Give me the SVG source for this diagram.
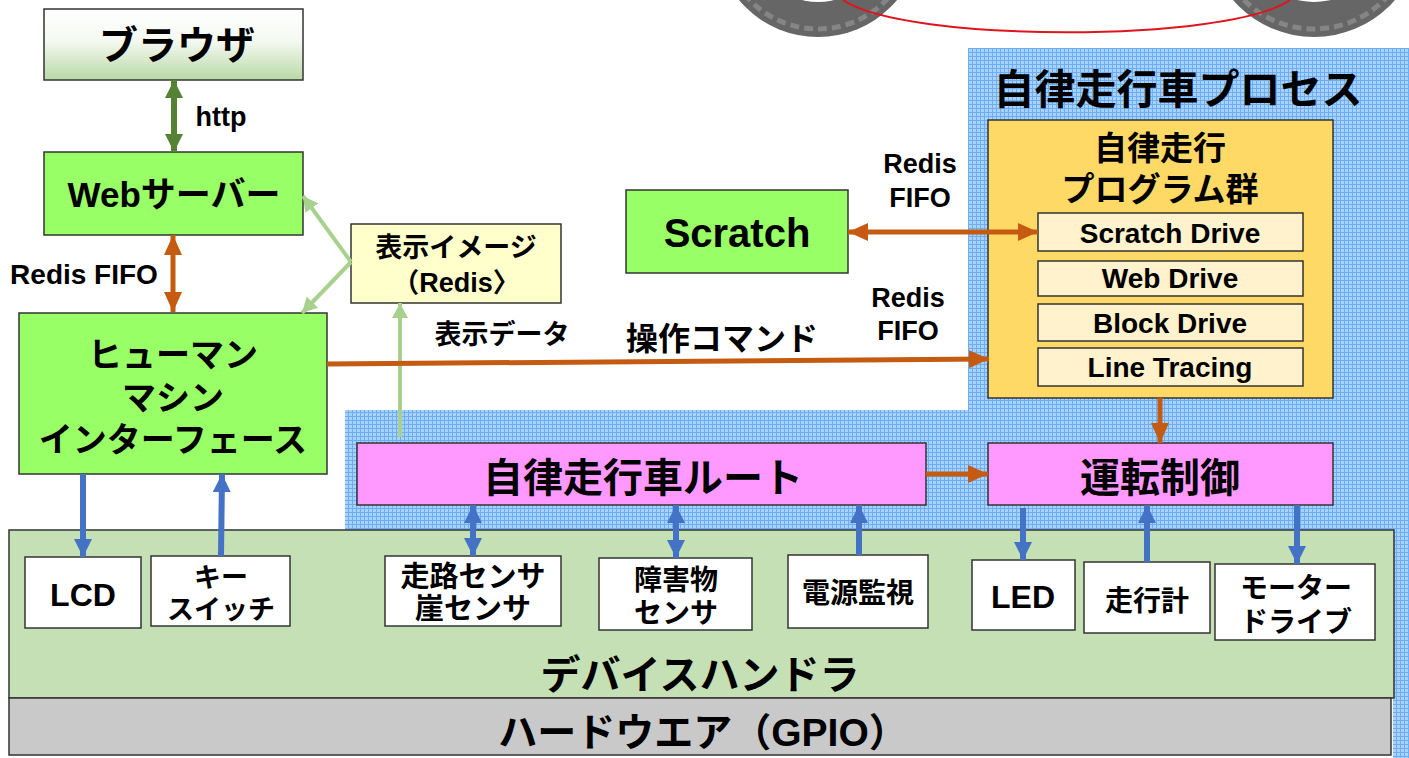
<svg xmlns="http://www.w3.org/2000/svg" width="1409" height="758" viewBox="0 0 1409 758">
  <defs>
    <pattern id="grid" width="4" height="4" patternUnits="userSpaceOnUse">
      <rect width="4" height="4" fill="#a9d1fb"/>
      <path d="M0 0.5H4M0.5 0V4" stroke="#6aaef6" stroke-width="1"/>
    </pattern>
    <linearGradient id="browserFill" x1="0" y1="0" x2="0" y2="1">
      <stop offset="0" stop-color="#ffffff"/>
      <stop offset="0.45" stop-color="#f4f9f1"/>
      <stop offset="1" stop-color="#b9d8a6"/>
    </linearGradient>
    <marker id="hOrange" markerUnits="userSpaceOnUse" markerWidth="20" markerHeight="18" viewBox="0 0 20 18" refX="20" refY="9" orient="auto-start-reverse">
      <path d="M0 0L20 9L0 18z" fill="#c55a11"/>
    </marker>
    <marker id="hBlue" markerUnits="userSpaceOnUse" markerWidth="18" markerHeight="18" viewBox="0 0 18 18" refX="18" refY="9" orient="auto-start-reverse">
      <path d="M0 0L18 9L0 18z" fill="#4472c4"/>
    </marker>
    <marker id="hDark" markerUnits="userSpaceOnUse" markerWidth="18" markerHeight="18" viewBox="0 0 18 18" refX="18" refY="9" orient="auto-start-reverse">
      <path d="M0 0L18 9L0 18z" fill="#548235"/>
    </marker>
    <marker id="hLight" markerUnits="userSpaceOnUse" markerWidth="15" markerHeight="16" viewBox="0 0 15 16" refX="15" refY="8" orient="auto-start-reverse">
      <path d="M0 0L15 8L0 16z" fill="#a9d18e"/>
    </marker>
    <style>
      .box { stroke: #333333; stroke-width: 1.5; }
      .green { fill: #99ff66; }
      .pink { fill: #ff99ff; }
      .drive { fill: #fff2cc; }
      .dev { fill: #ffffff; }
      text { font-family: "Liberation Sans", "Noto Sans CJK JP", sans-serif; font-weight: 700; fill: #000000; text-anchor: middle; }
      .orange { stroke: #c55a11; stroke-width: 5; fill: none; }
      .blue { stroke: #4472c4; stroke-width: 6; fill: none; }
      .dark { stroke: #548235; stroke-width: 6; fill: none; }
      .light { stroke: #a9d18e; stroke-width: 4; fill: none; }
      .tyre { fill: #666666; }
      .tread { fill: none; stroke: #858585; stroke-width: 5; stroke-dasharray: 9 5; }
    </style>
  </defs>

  <rect width="1409" height="758" fill="#ffffff"/>

  <!-- wheels and track at the top edge -->
  <g id="vehicle">
    <circle class="tyre" cx="818" cy="-66" r="103"/>
    <circle class="tread" cx="818" cy="-66" r="95"/>
    <circle cx="818" cy="-66" r="68" fill="#ffffff"/>
    <circle class="tyre" cx="1314" cy="-70" r="107"/>
    <circle class="tread" cx="1314" cy="-70" r="99"/>
    <circle cx="1314" cy="-70" r="72" fill="#ffffff"/>
    <path d="M843 0C905 43 1228 43 1290 0" fill="none" stroke="#e0141c" stroke-width="2"/>
  </g>

  <!-- process area background -->
  <path id="process-area" d="M968 48H1409V758H1393V530H345V410H968z" fill="url(#grid)"/>

  <g id="browser">
    <rect class="box" x="44" y="9" width="259" height="71" fill="url(#browserFill)"/>
    <text x="177" y="59" font-size="39">ブラウザ</text>
  </g>

  <g id="web-server">
    <rect class="box green" x="44" y="152" width="259" height="83"/>
    <text x="174" y="207" font-size="35">Webサーバー</text>
  </g>

  <g id="hmi">
    <rect class="box green" x="19" y="313" width="308" height="161"/>
    <text x="173" y="367" font-size="34">ヒューマン</text>
    <text x="173" y="410" font-size="34">マシン</text>
    <text x="173" y="452" font-size="34">インターフェース</text>
  </g>

  <g id="display-image">
    <rect class="box" x="351" y="224" width="210" height="79" fill="#ffffcc"/>
    <text x="456" y="257" font-size="27">表示イメージ</text>
    <text x="456" y="292" font-size="27">（Redis〉</text>
  </g>

  <g id="scratch">
    <rect class="box green" x="626" y="190" width="222" height="83"/>
    <text x="737" y="247" font-size="40">Scratch</text>
  </g>

  <g id="process-title">
    <text x="1178" y="104" font-size="41">自律走行車プロセス</text>
  </g>

  <g id="programs">
    <rect class="box" x="988" y="120" width="345" height="278" fill="#ffd966"/>
    <text x="1160" y="160" font-size="33">自律走行</text>
    <text x="1160" y="201" font-size="33">プログラム群</text>
  </g>
  <g id="scratch-drive">
    <rect class="box drive" x="1038" y="213" width="265" height="38"/>
    <text x="1170" y="243" font-size="28">Scratch Drive</text>
  </g>
  <g id="web-drive">
    <rect class="box drive" x="1038" y="261" width="265" height="35"/>
    <text x="1170" y="288" font-size="28">Web Drive</text>
  </g>
  <g id="block-drive">
    <rect class="box drive" x="1038" y="304" width="265" height="37"/>
    <text x="1170" y="333" font-size="28">Block Drive</text>
  </g>
  <g id="line-tracing">
    <rect class="box drive" x="1038" y="348" width="265" height="38"/>
    <text x="1170" y="377" font-size="28">Line Tracing</text>
  </g>

  <g id="route">
    <rect class="box pink" x="357" y="443" width="569" height="62"/>
    <text x="643" y="492" font-size="40">自律走行車ルート</text>
  </g>

  <g id="drive-control">
    <rect class="box pink" x="988" y="443" width="345" height="62"/>
    <text x="1160" y="492" font-size="40">運転制御</text>
  </g>

  <g id="device-handler">
    <rect class="box" x="9" y="530" width="1385" height="168" fill="#c5e0b4"/>
    <text x="700" y="689" font-size="40">デバイスハンドラ</text>
  </g>

  <g id="hardware">
    <rect class="box" x="9" y="698" width="1382" height="57" fill="#c9c9c9"/>
    <text x="703" y="746" font-size="39">ハードウエア（GPIO）</text>
  </g>

  <g id="lcd">
    <rect class="box dev" x="25" y="557" width="116" height="71"/>
    <text x="83" y="606" font-size="32">LCD</text>
  </g>
  <g id="key-switch">
    <rect class="box dev" x="151" y="556" width="139" height="70"/>
    <text x="221" y="587" font-size="27">キー</text>
    <text x="221" y="619" font-size="27">スイッチ</text>
  </g>
  <g id="road-sensor">
    <rect class="box dev" x="385" y="556" width="176" height="70"/>
    <text x="473" y="587" font-size="29">走路センサ</text>
    <text x="473" y="619" font-size="29">崖センサ</text>
  </g>
  <g id="obstacle-sensor">
    <rect class="box dev" x="599" y="558" width="153" height="72"/>
    <text x="676" y="590" font-size="28">障害物</text>
    <text x="676" y="623" font-size="28">センサ</text>
  </g>
  <g id="power-monitor">
    <rect class="box dev" x="788" y="555" width="140" height="73"/>
    <text x="858" y="603" font-size="28">電源監視</text>
  </g>
  <g id="led">
    <rect class="box dev" x="972" y="560" width="103" height="70"/>
    <text x="1023" y="608" font-size="32">LED</text>
  </g>
  <g id="odometer">
    <rect class="box dev" x="1084" y="562" width="126" height="71"/>
    <text x="1147" y="611" font-size="28">走行計</text>
  </g>
  <g id="motor-driver">
    <rect class="box dev" x="1215" y="564" width="160" height="76"/>
    <text x="1296" y="598" font-size="28">モーター</text>
    <text x="1296" y="632" font-size="28">ドライブ</text>
  </g>

  <!-- connector labels -->
  <g id="labels">
    <text x="221" y="126" font-size="27">http</text>
    <text x="84" y="284" font-size="28">Redis FIFO</text>
    <text x="920" y="173" font-size="27">Redis</text>
    <text x="920" y="207" font-size="27">FIFO</text>
    <text x="908" y="307" font-size="27">Redis</text>
    <text x="908" y="340" font-size="27">FIFO</text>
    <text x="502" y="344" font-size="27">表示データ</text>
    <text x="722" y="350" font-size="32">操作コマンド</text>
  </g>

  <g id="connectors">
    <line class="dark" x1="174" y1="80" x2="174" y2="152" marker-start="url(#hDark)" marker-end="url(#hDark)"/>
    <line class="orange" x1="173" y1="235" x2="173" y2="312" marker-start="url(#hOrange)" marker-end="url(#hOrange)"/>
    <line class="light" x1="351" y1="262" x2="303" y2="196" marker-end="url(#hLight)"/>
    <line class="light" x1="351" y1="262" x2="302" y2="313" marker-end="url(#hLight)"/>
    <line class="light" x1="400" y1="437" x2="400" y2="303" stroke-width="7" marker-end="url(#hLight)"/>
    <line class="orange" x1="848" y1="232" x2="1038" y2="232" marker-start="url(#hOrange)" marker-end="url(#hOrange)"/>
    <line class="orange" x1="327" y1="364" x2="989" y2="359" marker-end="url(#hOrange)"/>
    <line class="orange" x1="1160" y1="398" x2="1160" y2="443" marker-end="url(#hOrange)"/>
    <line class="orange" x1="926" y1="474" x2="988" y2="474" marker-end="url(#hOrange)"/>
    <line class="blue" x1="83" y1="474" x2="83" y2="557" marker-end="url(#hBlue)"/>
    <line class="blue" x1="221" y1="556" x2="222" y2="474" marker-end="url(#hBlue)"/>
    <line class="blue" x1="473" y1="505" x2="473" y2="556" marker-start="url(#hBlue)" marker-end="url(#hBlue)"/>
    <line class="blue" x1="676" y1="505" x2="676" y2="558" marker-start="url(#hBlue)" marker-end="url(#hBlue)"/>
    <line class="blue" x1="859" y1="555" x2="859" y2="505" marker-end="url(#hBlue)"/>
    <line class="blue" x1="1023" y1="508" x2="1023" y2="560" marker-end="url(#hBlue)"/>
    <line class="blue" x1="1147" y1="562" x2="1147" y2="505" marker-end="url(#hBlue)"/>
    <line class="blue" x1="1297" y1="505" x2="1297" y2="564" marker-end="url(#hBlue)"/>
  </g>
</svg>
